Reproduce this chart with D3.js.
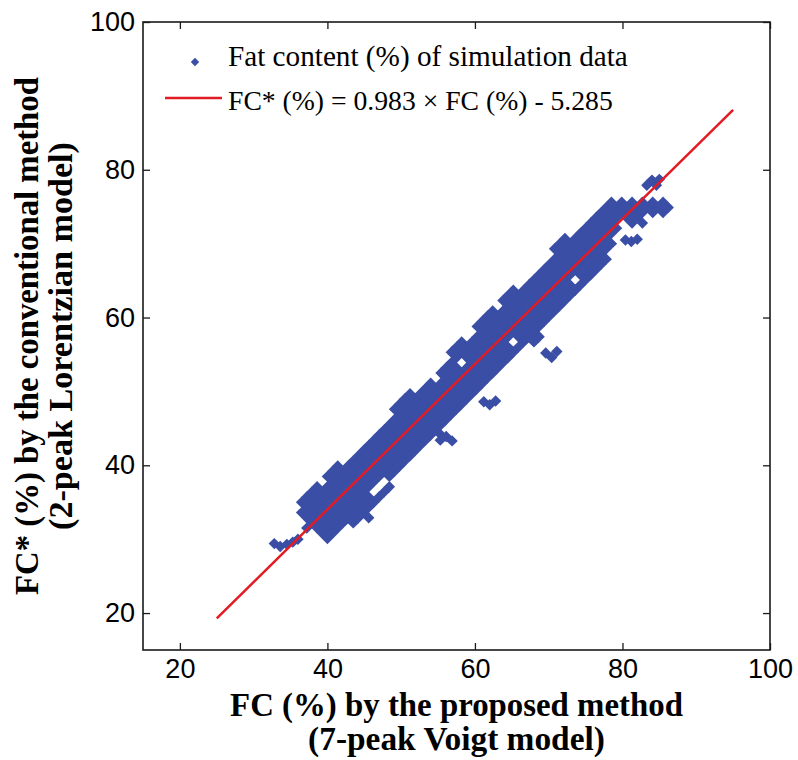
<!DOCTYPE html>
<html>
<head>
<meta charset="utf-8">
<script src="https://cdn.jsdelivr.net/npm/d3@7"></script>
<style>
  body { margin: 0; background: #fff; }
  svg { display: block; }
</style>
</head>
<body>
<svg id="chart" width="798" height="760"></svg>
<script>
// scatter cloud, one column per x value: [x, y, y, y ...]
const cloudCols = [
  [36.5, 33.6, 35.0],
  [37.2, 31.5, 32.9, 34.3, 35.7],
  [37.9, 32.2, 33.6, 35.0, 36.4],
  [38.6, 31.5, 32.9, 34.3, 35.7, 37.1],
  [39.3, 30.8, 32.2, 33.6, 35.0, 36.4],
  [40.0, 30.1, 31.5, 32.9, 34.3, 35.7, 37.1, 38.5],
  [40.7, 30.8, 32.2, 33.6, 35.0, 36.4, 37.8, 39.2],
  [41.4, 31.5, 32.9, 34.3, 35.7, 37.1, 38.5, 39.9],
  [42.1, 32.2, 33.6, 35.0, 36.4, 37.8, 39.2],
  [42.8, 32.9, 34.3, 35.7, 37.1, 38.5, 39.9],
  [43.5, 32.2, 33.6, 35.0, 36.4, 37.8, 39.2, 40.6],
  [44.2, 32.9, 34.3, 35.7, 37.1, 38.5, 39.9, 41.3],
  [44.9, 33.6, 35.0, 36.4, 37.8, 39.2, 40.6, 42.0],
  [45.6, 32.9, 34.3, 35.7, 37.1, 38.5, 39.9, 41.3, 42.7],
  [46.3, 35.0, 37.8, 39.2, 40.6, 42.0, 43.4],
  [47.0, 35.7, 38.5, 39.9, 41.3, 42.7, 44.1],
  [47.7, 36.4, 39.2, 40.6, 42.0, 43.4, 44.8],
  [48.4, 37.1, 38.5, 39.9, 41.3, 42.7, 44.1, 45.5],
  [49.1, 39.2, 40.6, 42.0, 43.4, 44.8, 46.2, 47.6],
  [49.8, 39.9, 41.3, 42.7, 44.1, 45.5, 46.9, 48.3],
  [50.5, 40.6, 42.0, 43.4, 44.8, 46.2, 47.6, 49.0],
  [51.2, 41.3, 42.7, 44.1, 45.5, 46.9, 48.3, 49.7],
  [51.9, 42.0, 43.4, 44.8, 46.2, 47.6, 49.0],
  [52.6, 42.7, 44.1, 45.5, 46.9, 48.3, 49.7],
  [53.3, 43.4, 44.8, 46.2, 47.6, 49.0, 50.4],
  [54.0, 44.1, 45.5, 46.9, 48.3, 49.7, 51.1],
  [54.7, 44.8, 46.2, 47.6, 49.0, 50.4],
  [55.4, 44.1, 45.5, 46.9, 48.3, 49.7, 51.1, 52.5],
  [56.1, 46.2, 47.6, 49.0, 50.4, 51.8, 53.2],
  [56.8, 46.9, 48.3, 49.7, 51.1, 52.5, 53.9, 55.3],
  [57.5, 47.6, 49.0, 50.4, 51.8, 53.2, 54.6, 56.0],
  [58.2, 48.3, 49.7, 51.1, 52.5, 55.3, 56.7],
  [58.9, 49.0, 50.4, 51.8, 53.2, 54.6, 56.0],
  [59.6, 49.7, 51.1, 52.5, 53.9, 55.3, 56.7],
  [60.3, 50.4, 51.8, 53.2, 54.6, 56.0, 57.4, 58.8],
  [61.0, 51.1, 52.5, 53.9, 55.3, 56.7, 58.1, 59.5],
  [61.7, 51.8, 53.2, 54.6, 56.0, 57.4, 58.8, 60.2],
  [62.4, 52.5, 53.9, 55.3, 56.7, 58.1, 59.5, 60.9],
  [63.1, 53.2, 54.6, 56.0, 57.4, 58.8, 60.2],
  [63.8, 53.9, 55.3, 56.7, 58.1, 59.5, 60.9, 62.3],
  [64.5, 54.6, 56.0, 57.4, 58.8, 60.2, 61.6, 63.0],
  [65.2, 55.3, 58.1, 59.5, 60.9, 62.3, 63.7],
  [65.9, 56.0, 57.4, 58.8, 60.2, 61.6, 63.0],
  [66.6, 56.7, 58.1, 59.5, 60.9, 62.3, 63.7],
  [67.3, 57.4, 58.8, 60.2, 61.6, 63.0, 64.4],
  [68.0, 56.7, 58.1, 59.5, 60.9, 62.3, 63.7, 65.1],
  [68.7, 57.4, 58.8, 60.2, 61.6, 63.0, 64.4, 65.8],
  [69.4, 59.5, 60.9, 62.3, 63.7, 65.1, 66.5],
  [70.1, 60.2, 61.6, 63.0, 64.4, 65.8, 67.2],
  [70.8, 60.9, 62.3, 63.7, 65.1, 66.5, 67.9, 69.3],
  [71.5, 61.6, 63.0, 64.4, 65.8, 67.2, 68.6, 70.0],
  [72.2, 62.3, 63.7, 65.1, 66.5, 67.9, 69.3, 70.7],
  [72.9, 63.0, 64.4, 65.8, 67.2, 68.6, 70.0],
  [73.6, 63.7, 66.5, 67.9, 69.3, 70.7],
  [74.3, 64.4, 65.8, 67.2, 68.6, 70.0, 71.4],
  [75.0, 65.1, 66.5, 67.9, 69.3, 70.7, 72.1],
  [75.7, 65.8, 67.2, 68.6, 70.0, 71.4, 72.8],
  [76.4, 66.5, 67.9, 69.3, 70.7, 72.1, 73.5],
  [77.1, 67.2, 68.6, 70.0, 71.4, 72.8, 74.2],
  [77.8, 67.9, 69.3, 70.7, 72.1, 73.5, 74.9],
  [78.5, 70.0, 71.4, 72.8, 74.2, 75.6],
  [79.2, 72.1, 73.5, 74.9],
  [79.9, 74.2, 75.6],
  [80.6, 73.5, 74.9],
  [81.3, 72.8, 74.2, 75.6],
  [82.0, 73.5, 74.9],
  [82.7, 72.8, 74.2, 75.6],
  [83.4, 74.9],
  [84.1, 74.2, 75.6],
  [84.8, 74.9],
  [85.5, 74.2, 75.6],
  [86.2, 74.9]
];
// loose points and small islands off the main band
const strayPts = [
  [32.8, 29.4], [33.6, 29.0], [34.5, 29.3], [35.3, 29.6], [36.0, 30.0],
  [55.3, 43.4], [56.1, 43.9], [56.9, 43.3],
  [61.2, 48.6], [62.0, 48.2], [62.8, 48.7],
  [69.6, 55.2], [70.4, 54.6], [71.1, 55.4],
  [80.4, 70.5], [81.2, 70.3], [82.0, 70.6],
  [83.3, 77.9], [84.0, 78.6], [84.6, 77.9], [85.0, 78.7]
];
const fitCoef = [0.983, -5.285];
const fitRange = [25, 95];
const xTicks = [20, 40, 60, 80, 100];
const yTicks = [20, 40, 60, 80, 100];
const legendLabels = ["Fat content (%) of simulation data", "FC* (%) = 0.983 \u00d7 FC (%) - 5.285"];

const blue = "#3a4ea6", red = "#e21c24", ink = "#1a1a1a";
const svg = d3.select("#chart");
const L = 143, R = 770, T = 22, B = 650;
const x = d3.scaleLinear().domain([15, 100]).range([L, R]);
const y = d3.scaleLinear().domain([15, 100]).range([B, T]);

const points = [];
cloudCols.forEach(c => c.slice(1).forEach(v => points.push([c[0], v])));
strayPts.forEach(p => points.push(p));

const r = 5.7;
const diamond = s => `M0,${-s}L${s},0L0,${s}L${-s},0Z`;

svg.append("g").selectAll("path").data(points).join("path")
  .attr("d", diamond(r))
  .attr("transform", d => `translate(${x(d[0])},${y(d[1])})`)
  .attr("fill", blue);

svg.append("line")
  .attr("x1", x(fitRange[0])).attr("y1", y(fitCoef[0] * fitRange[0] + fitCoef[1]))
  .attr("x2", x(fitRange[1])).attr("y2", y(fitCoef[0] * fitRange[1] + fitCoef[1]))
  .attr("stroke", red).attr("stroke-width", 2.5);

// axes: ticks point inward on all four sides
const tickFont = g => g.selectAll("text").style("font-family", "Liberation Sans, Arial, sans-serif").style("font-size", "27px").attr("fill", "#000");
const gx = svg.append("g").attr("transform", `translate(0,${B})`)
  .call(d3.axisBottom(x).tickValues(xTicks).tickSize(-7).tickSizeOuter(0).tickPadding(9))
  .call(tickFont);
const gy = svg.append("g").attr("transform", `translate(${L},0)`)
  .call(d3.axisLeft(y).tickValues(yTicks).tickSize(-7).tickSizeOuter(0).tickPadding(8))
  .call(tickFont);
svg.append("g").attr("transform", `translate(0,${T})`)
  .call(d3.axisTop(x).tickValues(xTicks).tickSize(-7).tickSizeOuter(0).tickFormat(""));
svg.append("g").attr("transform", `translate(${R},0)`)
  .call(d3.axisRight(y).tickValues(yTicks).tickSize(-7).tickSizeOuter(0).tickFormat(""));
svg.selectAll(".domain").remove();
svg.selectAll(".tick line").attr("stroke", ink).attr("stroke-width", 1.3);
gx.selectAll("text").attr("dy", "0.71em");

svg.append("rect").attr("x", L).attr("y", T).attr("width", R - L).attr("height", B - T)
  .attr("fill", "none").attr("stroke", ink).attr("stroke-width", 1.6);

function fit(t, w) {
  const cur = t.node().getComputedTextLength();
  const fs = parseFloat(t.style("font-size"));
  t.style("font-size", (fs * w / cur) + "px");
}

// legend
svg.append("path").attr("d", diamond(4.2)).attr("transform", "translate(195,62)").attr("fill", blue);
svg.append("line").attr("x1", 165).attr("x2", 222).attr("y1", 98).attr("y2", 98)
  .attr("stroke", red).attr("stroke-width", 2.5);
const lg1 = svg.append("text").attr("x", 228).attr("y", 66).text(legendLabels[0])
  .style("font-family", "Liberation Serif, serif").style("font-size", "28px");
fit(lg1, 400);
const lg2 = svg.append("text").attr("x", 228).attr("y", 110).text(legendLabels[1])
  .style("font-family", "Liberation Serif, serif").style("font-size", "28px");
fit(lg2, 385);

// axis titles
const xc = (L + R) / 2;
const xt1 = svg.append("text").attr("x", xc).attr("y", 716).attr("text-anchor", "middle")
  .text("FC (%) by the proposed method")
  .style("font-family", "Liberation Serif, serif").style("font-weight", "bold").style("font-size", "30px");
fit(xt1, 453);
const xt2 = svg.append("text").attr("x", xc).attr("y", 750).attr("text-anchor", "middle")
  .text("(7-peak Voigt model)")
  .style("font-family", "Liberation Serif, serif").style("font-weight", "bold").style("font-size", "30px");
fit(xt2, 297);

const yc = (T + B) / 2;
const yt1 = svg.append("text").attr("transform", `translate(38,${yc}) rotate(-90)`).attr("text-anchor", "middle")
  .text("FC* (%) by the conventional method")
  .style("font-family", "Liberation Serif, serif").style("font-weight", "bold").style("font-size", "30px");
fit(yt1, 518);
const yt2 = svg.append("text").attr("transform", `translate(72,${yc}) rotate(-90)`).attr("text-anchor", "middle")
  .text("(2-peak Lorentzian model)")
  .style("font-family", "Liberation Serif, serif").style("font-weight", "bold").style("font-size", "30px");
fit(yt2, 388);
</script>
</body>
</html>
